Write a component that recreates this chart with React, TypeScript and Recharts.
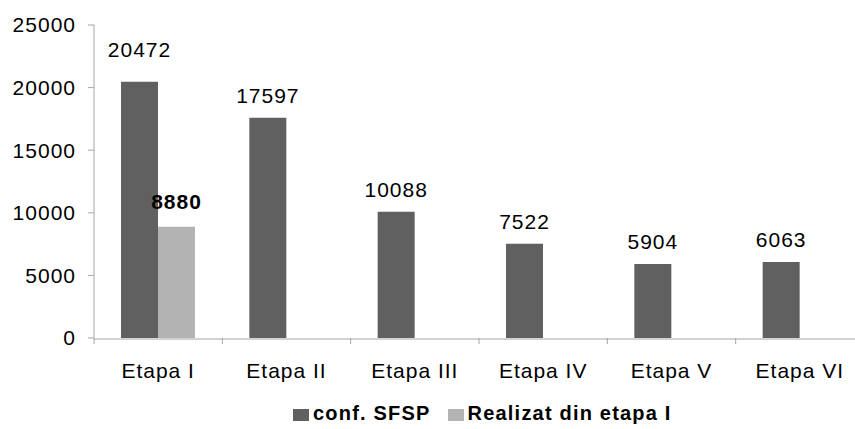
import React from "react";
import { BarChart, Bar, XAxis, YAxis, LabelList, Legend } from "recharts";

const categories = ["Etapa I", "Etapa II", "Etapa III", "Etapa IV", "Etapa V", "Etapa VI"];
const confSfsp = [20472, 17597, 10088, 7522, 5904, 6063];
const realizat: (number | null)[] = [8880, null, null, null, null, null];
const yTicks = [0, 5000, 10000, 15000, 20000, 25000];
const edgeTicks = [0, 1, 2, 3, 4, 5, 6];
const seriesNames = ["conf. SFSP", "Realizat din etapa I"];

const DARK = "#606060";
const LIGHT = "#b3b3b3";
const AXIS = "#a6a6a6";
const FONT = "'Liberation Sans', Arial, sans-serif";

const data = categories.map((name, i) => ({
  name,
  conf: confSfsp[i],
  real: realizat[i],
  edge: i,
}));

function ConfLabel(props: any) {
  const { x, y, width, value, index } = props;
  if (value == null) return null;
  // first label sits a bit higher in the original
  const lift = index === 0 ? 10 : 0;
  return (
    <text x={x + width / 2} y={y - 15 - lift} textAnchor="middle" fill="#000" fontSize={21} letterSpacing={1} fontFamily={FONT}>
      {value}
    </text>
  );
}

function RealLabel(props: any) {
  const { x, y, width, value } = props;
  if (value == null) return null;
  return (
    <text x={x + width / 2} y={y - 18} textAnchor="middle" fill="#000" fontSize={21} fontWeight="bold" letterSpacing={1} fontFamily={FONT}>
      {value}
    </text>
  );
}

function LegendBox() {
  const colors = [DARK, LIGHT];
  return (
    <div style={{ display: "flex", paddingLeft: 293, paddingTop: 14, height: 41, boxSizing: "border-box", fontFamily: FONT }}>
      {seriesNames.map((n, i) => (
        <div key={n} style={{ display: "flex", alignItems: "center", marginRight: 17, height: 22 }}>
          <span style={{ display: "inline-block", width: 16, height: 12, background: colors[i], marginRight: 4, marginTop: 3 }} />
          <span style={{ fontSize: 20, fontWeight: "bold", letterSpacing: 1.2, lineHeight: "22px", color: "#000" }}>{n}</span>
        </div>
      ))}
    </div>
  );
}

const blank = () => "";

export default function App() {
  return (
    <div style={{ position: "absolute", left: 0, top: 0, width: 855, height: 429, overflow: "hidden", background: "#fff" }}>
      <BarChart
        width={870}
        height={429}
        data={data}
        margin={{ top: 25, right: 6, left: 0, bottom: 0 }}
        barGap={0}
        barSize={37}
      >
        <XAxis
          xAxisId="b"
          dataKey="name"
          interval={0}
          tickLine={false}
          tickSize={6}
          tickMargin={18}
          height={49}
          stroke={AXIS}
          tick={{ fill: "#000", fontSize: 21, fontFamily: FONT, letterSpacing: 1 }}
        />
        <XAxis
          xAxisId="a"
          dataKey="edge"
          type="number"
          domain={[0, categories.length]}
          ticks={edgeTicks}
          allowDataOverflow
          tickFormatter={blank}
          tick={{ fontSize: 1 }}
          tickSize={6}
          axisLine={false}
          height={1}
          stroke={AXIS}
        />
        <YAxis
          domain={[0, 25000]}
          ticks={yTicks}
          width={94}
          tickSize={6}
          tickMargin={12}
          stroke={AXIS}
          tick={{ fill: "#000", fontSize: 21, fontFamily: FONT, letterSpacing: 1 }}
        />
        <Legend verticalAlign="bottom" height={41} wrapperStyle={{ left: 0, width: 870 }} content={<LegendBox />} />
        <Bar xAxisId="b" dataKey="conf" name={seriesNames[0]} fill={DARK} isAnimationActive={false}>
          <LabelList dataKey="conf" content={<ConfLabel />} />
        </Bar>
        <Bar xAxisId="b" dataKey="real" name={seriesNames[1]} fill={LIGHT} isAnimationActive={false}>
          <LabelList dataKey="real" content={<RealLabel />} />
        </Bar>
      </BarChart>
    </div>
  );
}
